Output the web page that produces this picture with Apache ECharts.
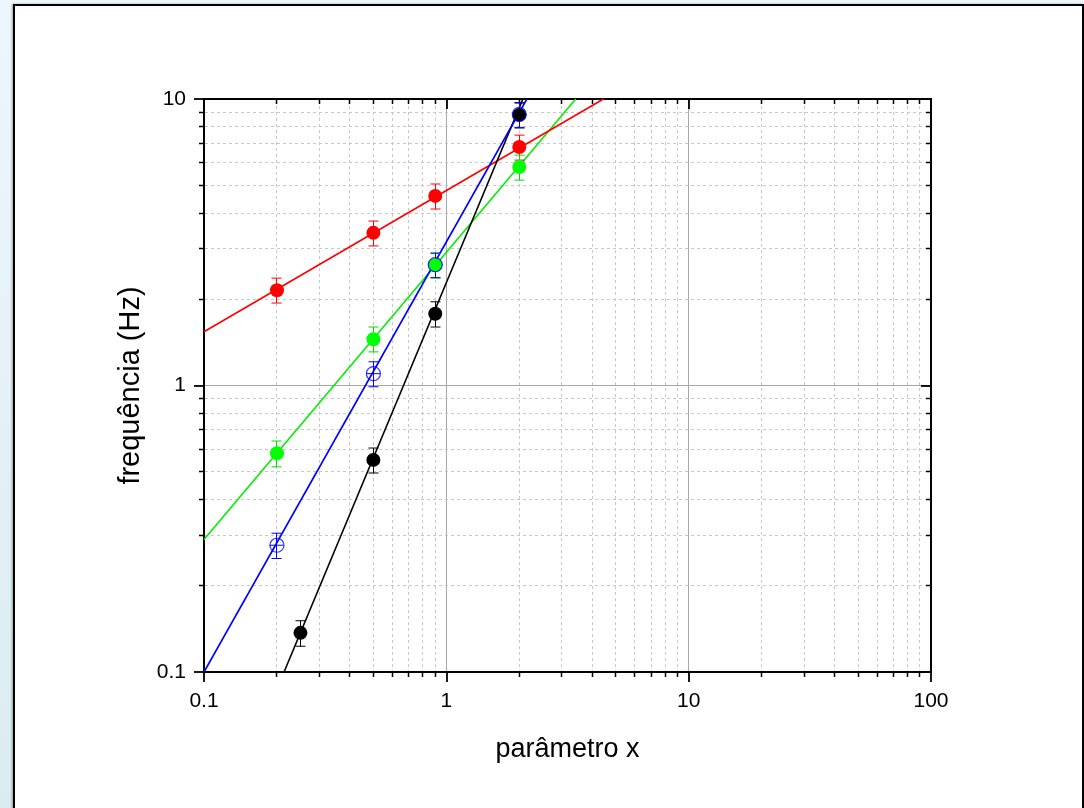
<!DOCTYPE html>
<html>
<head>
<meta charset="utf-8">
<script src="https://cdn.jsdelivr.net/npm/echarts@6/dist/echarts.min.js"></script>
<style>
html,body{margin:0;padding:0;width:1084px;height:808px;overflow:hidden;
  background:linear-gradient(to bottom,#eef6fd 0%,#dbecf1 100%);}
#frame{position:absolute;left:13px;top:4px;width:1067px;height:820px;background:#fff;border:2px solid #000;box-shadow:-1px 0 2px rgba(0,0,0,0.35);}
#chart{position:absolute;left:0;top:0;width:1084px;height:808px;}
</style>
</head>
<body>
<div id="frame"></div>
<div id="chart"></div>
<script>
// ---- data ----
const xPts = [0.2, 0.5, 0.9, 2];
const xPtsBlack = [0.25, 0.5, 0.9, 2];

const redY    = [2.15, 3.41, 4.59, 6.80];
const redLow  = [1.94, 3.07, 4.13, 6.12];
const redHigh = [2.37, 3.75, 5.05, 7.48];

const greenY    = [0.58, 1.45, 2.63, 5.79];
const greenLow  = [0.52, 1.31, 2.37, 5.21];
const greenHigh = [0.64, 1.60, 2.89, 6.37];

const blueY    = [0.277, 1.10, 2.64, 8.84];
const blueLow  = [0.249, 0.99, 2.38, 7.96];
const blueHigh = [0.305, 1.21, 2.90, 9.72];

const blackY    = [0.137, 0.55, 1.78, 8.80];
const blackLow  = [0.123, 0.495, 1.60, 7.92];
const blackHigh = [0.151, 0.605, 1.96, 9.68];

// fitted lines (end points)
const redFitX = [0.1, 4.45],   redFitY = [1.54, 10];
const greenFitX = [0.1, 3.42], greenFitY = [0.29, 10];
const blueFitX = [0.1, 2.15],  blueFitY = [0.1, 10];
const blackFitX = [0.214, 2.07], blackFitY = [0.1, 10];

// minor tick values
const xMinor = [0.2,0.3,0.4,0.5,0.6,0.7,0.8,0.9,2,3,4,5,6,7,8,9,20,30,40,50,60,70,80,90];
const yMinor = [0.2,0.3,0.4,0.5,0.6,0.7,0.8,0.9,2,3,4,5,6,7,8,9];

const xName = 'parâmetro x';
const yName = 'frequência (Hz)';

const FONT = "'Liberation Sans', Arial, sans-serif";
const zip = (a, b) => a.map((v, i) => [v, b[i]]);
const errData = (xs, ys, lo, hi) => xs.map((x, i) => [x, ys[i], lo[i], hi[i]]);

const chart = echarts.init(document.getElementById('chart'), null, {renderer: 'canvas'});

function snap(v) { return Math.round(v - 0.5) + 0.5; }

function minorX(params, api) {
  const cs = params.coordSys;
  const x = snap(api.coord([api.value(0), 1])[0]);
  const top = cs.y, bot = cs.y + cs.height;
  return {type: 'group', children: [
    {type: 'line', shape: {x1: x, y1: top + 1, x2: x, y2: bot - 1}, style: {stroke: '#c8c8c8', lineWidth: 1, lineDash: [3, 3]}},
    {type: 'line', shape: {x1: x, y1: bot, x2: x, y2: bot + 5}, style: {stroke: '#000', lineWidth: 1.5}},
    {type: 'line', shape: {x1: x, y1: top, x2: x, y2: top + 5}, style: {stroke: '#000', lineWidth: 1.5}}
  ]};
}
function minorY(params, api) {
  const cs = params.coordSys;
  const y = snap(api.coord([1, api.value(1)])[1]);
  const left = cs.x, right = cs.x + cs.width;
  return {type: 'group', children: [
    {type: 'line', shape: {x1: left + 1, y1: y, x2: right - 1, y2: y}, style: {stroke: '#c8c8c8', lineWidth: 1, lineDash: [3, 3]}},
    {type: 'line', shape: {x1: left - 5, y1: y, x2: left, y2: y}, style: {stroke: '#000', lineWidth: 1.5}},
    {type: 'line', shape: {x1: right - 5, y1: y, x2: right, y2: y}, style: {stroke: '#000', lineWidth: 1.5}}
  ]};
}
function errBar(color, cross) {
  return function (params, api) {
    const x = api.value(0);
    const pLo = api.coord([x, api.value(2)]);
    const pHi = api.coord([x, api.value(3)]);
    const pC = api.coord([x, api.value(1)]);
    const cx = snap(pLo[0]);
    const st = {stroke: color, lineWidth: 1};
    const ch = [
      {type: 'line', shape: {x1: cx, y1: pHi[1], x2: cx, y2: pLo[1]}, style: st},
      {type: 'line', shape: {x1: cx - 5, y1: pHi[1], x2: cx + 5, y2: pHi[1]}, style: st},
      {type: 'line', shape: {x1: cx - 5, y1: pLo[1], x2: cx + 5, y2: pLo[1]}, style: st}
    ];
    if (cross) ch.push({type: 'line', shape: {x1: cx - 7, y1: pC[1], x2: cx + 7, y2: pC[1]}, style: st});
    return {type: 'group', children: ch};
  };
}
function fitLine(xs, ys, color) {
  return {type: 'line', data: zip(xs, ys), symbol: 'none', lineStyle: {color: color, width: 1.6}, z: 3, silent: true, animation: false};
}
function scatter(xs, ys, color, open) {
  return {type: 'scatter', data: zip(xs, ys), symbol: 'circle', symbolSize: 14,
    itemStyle: open ? {color: 'rgba(0,0,0,0)', borderColor: color, borderWidth: 1.2} : {color: color, opacity: 1},
    z: 5, animation: false};
}
function errSeries(xs, ys, lo, hi, color, cross) {
  return {type: 'custom', data: errData(xs, ys, lo, hi), renderItem: errBar(color, cross), z: 4, animation: false, silent: true};
}

const axisCommon = {
  type: 'log', logBase: 10,
  axisLine: {show: true, onZero: false, lineStyle: {color: '#000', width: 2}},
};

chart.setOption({
  animation: false,
  backgroundColor: 'transparent',
  textStyle: {fontFamily: FONT},
  grid: {left: 204, top: 99, width: 727, height: 573, containLabel: false},
  xAxis: [
    Object.assign({}, axisCommon, {
      min: 0.1, max: 100, position: 'bottom',
      axisTick: {show: true, inside: false, length: 10, lineStyle: {color: '#000', width: 1.8}},
      axisLabel: {show: true, color: '#000', fontSize: 21, fontFamily: FONT, margin: 19},
      splitLine: {show: true, lineStyle: {color: '#a8a8a8', width: 1, type: 'solid'}},
      name: xName, nameLocation: 'middle', nameGap: 64,
      nameTextStyle: {color: '#000', fontSize: 27, fontFamily: FONT}
    }),
    Object.assign({}, axisCommon, {
      min: 0.1, max: 100, position: 'top',
      axisTick: {show: true, inside: true, length: 10, lineStyle: {color: '#000', width: 1.8}},
      axisLabel: {show: false}, splitLine: {show: false}
    })
  ],
  yAxis: [
    Object.assign({}, axisCommon, {
      min: 0.1, max: 10, position: 'left',
      axisTick: {show: true, inside: false, length: 10, lineStyle: {color: '#000', width: 1.8}},
      axisLabel: {show: true, color: '#000', fontSize: 21, fontFamily: FONT, margin: 18},
      splitLine: {show: true, lineStyle: {color: '#a8a8a8', width: 1, type: 'solid'}},
      name: yName, nameLocation: 'middle', nameGap: 52, nameRotate: 90,
      nameTextStyle: {color: '#000', fontSize: 29, fontFamily: FONT}
    }),
    Object.assign({}, axisCommon, {
      min: 0.1, max: 10, position: 'right',
      axisTick: {show: true, inside: true, length: 10, lineStyle: {color: '#000', width: 1.8}},
      axisLabel: {show: false}, splitLine: {show: false}
    })
  ],
  series: [
    {type: 'custom', data: xMinor.map(v => [v, 1]), renderItem: minorX, z: 1, silent: true, animation: false, clip: false},
    {type: 'custom', data: yMinor.map(v => [1, v]), renderItem: minorY, z: 1, silent: true, animation: false, clip: false},
    fitLine(greenFitX, greenFitY, '#00ee00'),
    fitLine(redFitX, redFitY, '#ff0000'),
    fitLine(blackFitX, blackFitY, '#000000'),
    fitLine(blueFitX, blueFitY, '#0000ff'),
    errSeries(xPtsBlack, blackY, blackLow, blackHigh, '#000000', false),
    errSeries(xPts, redY, redLow, redHigh, '#ff0000', false),
    errSeries(xPts, greenY, greenLow, greenHigh, '#00dd00', false),
    errSeries(xPts, blueY, blueLow, blueHigh, '#0000ff', true),
    scatter(xPtsBlack, blackY, '#000000', false),
    scatter(xPts, redY, '#ff0000', false),
    scatter(xPts, greenY, '#00ff00', false),
    scatter(xPts, blueY, '#0000ff', true)
  ]
});
</script>
</body>
</html>
